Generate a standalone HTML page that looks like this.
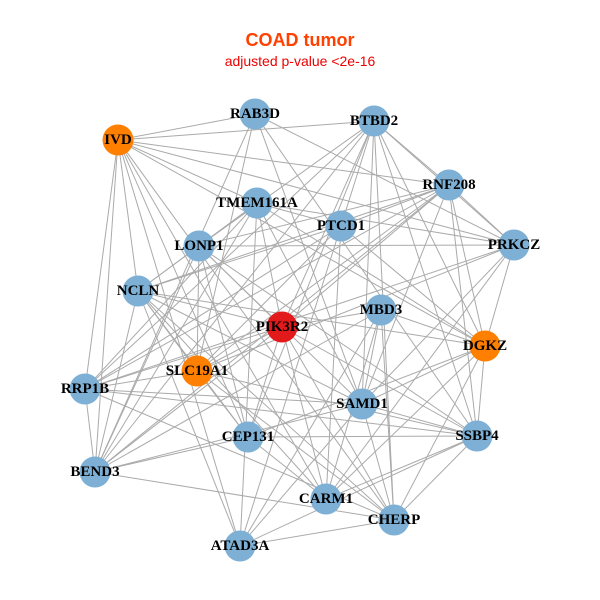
<!DOCTYPE html>
<html><head><meta charset="utf-8"><style>
html,body{margin:0;padding:0;background:#fff;}
svg{display:block;}
text.l{font-family:"Liberation Serif",serif;font-weight:bold;font-size:15px;fill:#000;text-anchor:middle;dominant-baseline:central;}
</style></head><body>
<svg id="s" width="600" height="600" xmlns="http://www.w3.org/2000/svg">
<rect width="600" height="600" fill="#fff"/>
<text x="300" y="46" text-anchor="middle" font-family="Liberation Sans,sans-serif" font-weight="bold" font-size="18" fill="#ff4000">COAD tumor</text>
<text x="300" y="66" text-anchor="middle" font-family="Liberation Sans,sans-serif" font-size="14" fill="#ee0000">adjusted p-value &lt;2e-16</text>
<g id="e" stroke="#aaaaaa" stroke-width="1"></g>
<g id="n"></g>
</svg>
<script>
var N=[["RAB3D",255,114,"b"],["BTBD2",374,121,"b"],["IVD",118,140,"o"],["RNF208",449,185,"b"],["TMEM161A",257,203,"b"],["PTCD1",341,226,"b"],["LONP1",199,246,"b"],["PRKCZ",514,245,"b"],["NCLN",138,291,"b"],["MBD3",381,310,"b"],["PIK3R2",282,327,"r"],["DGKZ",485,346,"o"],["SLC19A1",197,371,"o"],["RRP1B",85,389,"b"],["SAMD1",362,404,"b"],["CEP131",248,437,"b"],["SSBP4",477,436,"b"],["BEND3",95,472,"b"],["CARM1",326,499,"b"],["CHERP",394,520,"b"],["ATAD3A",240,546,"b"]];
var C={b:"#7eb0d5",o:"#ff7f00",r:"#e31a1c"};
var ns="http://www.w3.org/2000/svg",e=document.getElementById("e"),g=document.getElementById("n");
var seed=12345;function rnd(){seed=(seed*1103515245+12345)%2147483648;return seed/2147483648;}
for(var i=0;i<N.length;i++)for(var j=i+1;j<N.length;j++){
 if(rnd()<0.57){var l=document.createElementNS(ns,"line");
 l.setAttribute("x1",N[i][1]);l.setAttribute("y1",N[i][2]);l.setAttribute("x2",N[j][1]);l.setAttribute("y2",N[j][2]);e.appendChild(l);}
}
N.forEach(function(d){var c=document.createElementNS(ns,"circle");c.setAttribute("cx",d[1]);c.setAttribute("cy",d[2]);c.setAttribute("r",15.5);c.setAttribute("fill",C[d[3]]);g.appendChild(c);});
N.forEach(function(d){var t=document.createElementNS(ns,"text");t.setAttribute("class","l");t.setAttribute("x",d[1]);t.setAttribute("y",d[2]);t.textContent=d[0];g.appendChild(t);});
</script>
</body></html>
